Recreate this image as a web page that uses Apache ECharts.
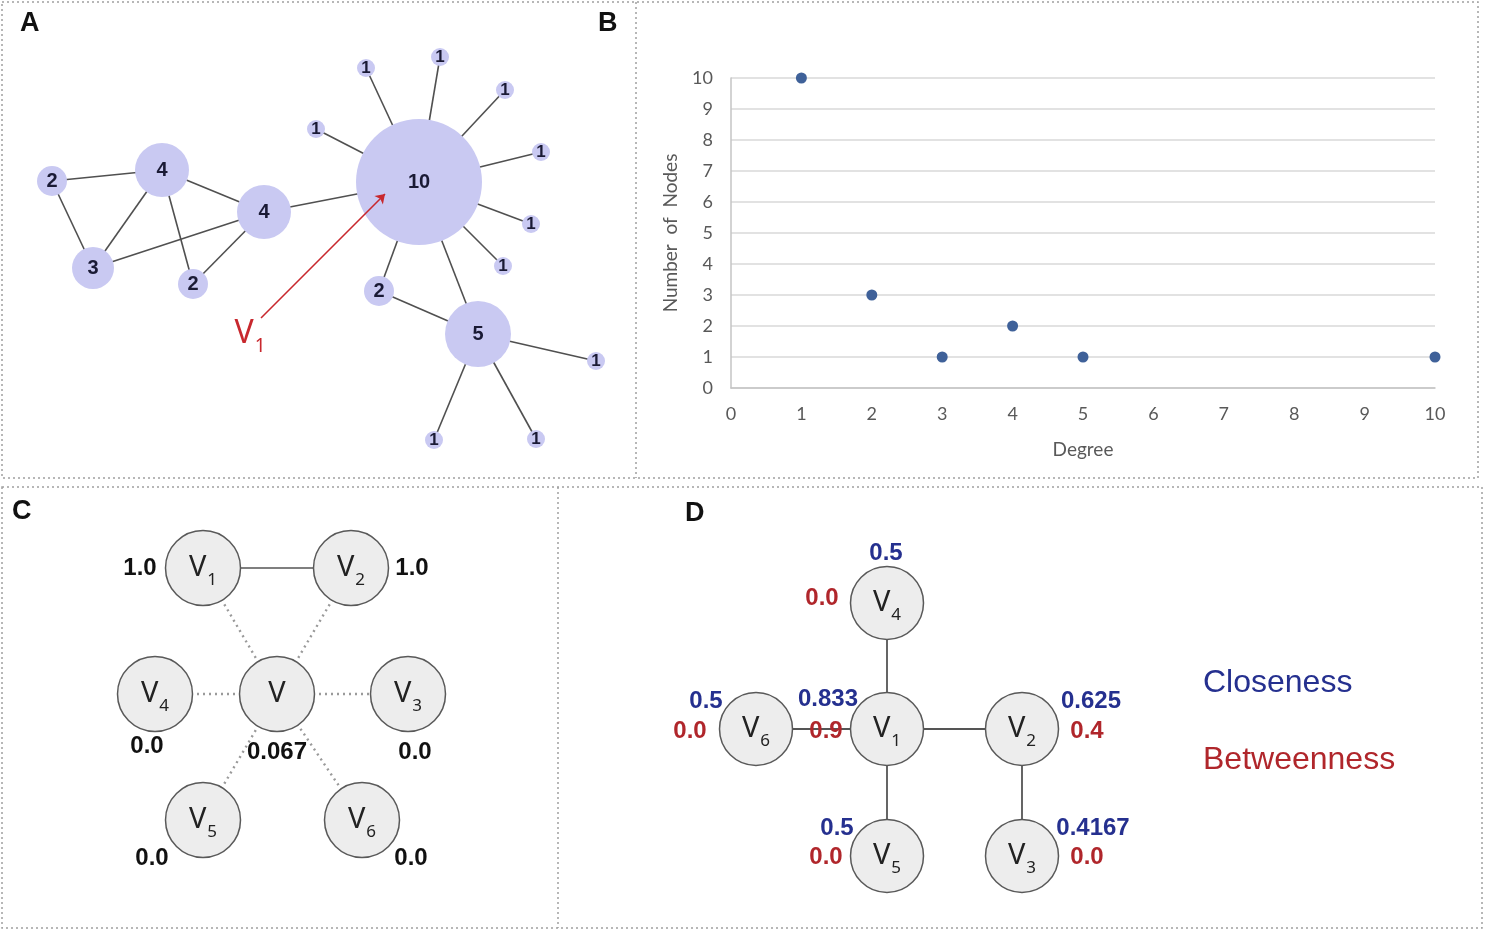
<!DOCTYPE html>
<html>
<head>
<meta charset="utf-8">
<script src="https://cdn.jsdelivr.net/npm/echarts@6/dist/echarts.min.js"></script>
<style>
  html, body { margin: 0; padding: 0; background: #ffffff; }
  #main { width: 1485px; height: 931px; }
</style>
</head>
<body>
<div id="main"></div>
<script>
// ---------- Panel A: example network, each node labelled with its degree ----------
const netDegree = [2, 4, 4, 3, 2, 10, 1, 1, 1, 1, 1, 1, 1, 2, 5, 1, 1, 1];
const netX      = [52, 162, 264, 93, 193, 419, 366, 440, 505, 541, 531, 503, 316, 379, 478, 596, 434, 536];
const netY      = [181, 170, 212, 268, 284, 182, 68, 57, 90, 152, 224, 266, 129, 291, 334, 361, 440, 439];
const netLinks  = [[0, 1], [0, 3], [1, 3], [1, 4], [1, 2], [3, 2], [4, 2], [2, 5],
                   [5, 6], [5, 7], [5, 8], [5, 9], [5, 10], [5, 11], [5, 12], [5, 13], [5, 14],
                   [13, 14], [14, 15], [14, 16], [14, 17]];
const arrowTail = [261, 318];
const arrowHead = [385, 194];
const arrowLabelPos = [250, 335];

// ---------- Panel B: degree distribution ----------
const degreeValues = [1, 2, 3, 4, 5, 10];
const nodeCounts   = [10, 3, 1, 2, 1, 1];
const degreeTicks  = [0, 1, 2, 3, 4, 5, 6, 7, 8, 9, 10];
const countTicks   = [0, 1, 2, 3, 4, 5, 6, 7, 8, 9, 10];

// ---------- Panel C: neighbourhood of V ----------
const cSub     = ['1', '2', '4', '', '3', '5', '6'];
const cX       = [203, 351, 155, 277, 408, 203, 362];
const cY       = [568, 568, 694, 694, 694, 820, 820];
const cScore   = ['1.0', '1.0', '0.0', '0.067', '0.0', '0.0', '0.0'];
const cScoreDx = [-63, 61, -8, 0, 7, -51, 49];
const cScoreDy = [0, 0, 52, 58, 58, 38, 38];
const cSolid   = [[0, 1]];
const cDotted  = [[3, 0], [3, 1], [3, 2], [3, 4], [3, 5], [3, 6]];

// ---------- Panel D: closeness and betweenness ----------
const dSub         = ['4', '6', '1', '2', '5', '3'];
const dX           = [887, 756, 887, 1022, 887, 1022];
const dY           = [603, 729, 729, 729, 856, 856];
const dCloseness   = ['0.5', '0.5', '0.833', '0.625', '0.5', '0.4167'];
const dBetweenness = ['0.0', '0.0', '0.9', '0.4', '0.0', '0.0'];
const dCloseDx     = [-1, -50, -59, 69, -50, 71];
const dCloseDy     = [-50, -28, -30, -28, -28, -28];
const dBetweenDx   = [-65, -66, -61, 65, -61, 65];
const dBetweenDy   = [-5, 2, 2, 2, 1, 1];
const dLinks       = [[0, 2], [1, 2], [2, 3], [2, 4], [3, 5]];

const CLOSE_COLOR = '#25308f';
const BETWEEN_COLOR = '#b0262b';

const chart = echarts.init(document.getElementById('main'), null, { renderer: 'canvas' });

const subRich = {
  v: { fontSize: 29, fontFamily: 'Noto Sans', color: '#222222', verticalAlign: 'top', lineHeight: 30 },
  s: { fontSize: 17, fontFamily: 'Noto Sans', color: '#222222', verticalAlign: 'top', lineHeight: 18, padding: [19, 0, 0, 1] }
};
function vLabel(sub) { return sub ? '{v|V}{s|' + sub + '}' : '{v|V}'; }

function textSeries(points, texts, style) {
  return {
    type: 'scatter',
    xAxisIndex: 0, yAxisIndex: 0,
    silent: true,
    symbol: 'circle', symbolSize: 1,
    itemStyle: { color: 'rgba(0,0,0,0)', opacity: 1 },
    z: 10,
    data: points.map((p, i) => ({ value: p, label: { formatter: texts[i] } })),
    label: Object.assign({ show: true, position: 'inside', opacity: 1 }, style)
  };
}

const circleNode = { color: '#ededed', borderColor: '#595959', borderWidth: 1.5 };

const option = {
  animation: false,
  backgroundColor: '#ffffff',
  grid: [
    { left: 0, top: 0, width: 1485, height: 931, outerBoundsMode: 'none', containLabel: false },
    { left: 731, top: 78, width: 704, height: 310, outerBoundsMode: 'none', containLabel: false }
  ],
  xAxis: [
    { gridIndex: 0, type: 'value', min: 0, max: 1485, show: false },
    {
      gridIndex: 1, type: 'value', min: 0, max: 10, interval: 1,
      name: 'Degree', nameLocation: 'middle', nameGap: 52,
      nameTextStyle: { fontFamily: 'Lato', fontSize: 19, color: '#595959' },
      axisLine: { show: true, lineStyle: { color: '#c4c4c4', width: 1.5 } },
      axisTick: { show: false },
      axisLabel: { margin: 17, fontFamily: 'Lato', fontSize: 18, color: '#595959',
                   formatter: v => degreeTicks.includes(v) ? String(v) : '' },
      splitLine: { show: false }
    }
  ],
  yAxis: [
    { gridIndex: 0, type: 'value', min: 0, max: 931, inverse: true, show: false },
    {
      gridIndex: 1, type: 'value', min: 0, max: 10, interval: 1,
      name: 'Number  of  Nodes', nameLocation: 'middle', nameGap: 51, nameRotate: 90,
      nameTextStyle: { fontFamily: 'Lato', fontSize: 19, color: '#595959' },
      axisLine: { show: true, lineStyle: { color: '#c4c4c4', width: 1.5 } },
      axisTick: { show: false },
      axisLabel: { margin: 18, fontFamily: 'Lato', fontSize: 18, color: '#595959',
                   formatter: v => countTicks.includes(v) ? String(v) : '' },
      splitLine: { show: true, lineStyle: { color: '#d9d9d9', width: 1.5 } }
    }
  ],
  graphic: [
    // panel frames
    { type: 'rect', shape: { x: 2, y: 2, width: 1476, height: 476 }, silent: true,
      style: { fill: 'none', stroke: '#a0a0a0', lineWidth: 1.5, lineDash: [2, 3] } },
    { type: 'line', shape: { x1: 636, y1: 2, x2: 636, y2: 478 }, silent: true,
      style: { stroke: '#a0a0a0', lineWidth: 1.5, lineDash: [2, 3] } },
    { type: 'rect', shape: { x: 2, y: 487, width: 1480, height: 441 }, silent: true,
      style: { fill: 'none', stroke: '#a0a0a0', lineWidth: 1.5, lineDash: [2, 3] } },
    { type: 'line', shape: { x1: 558, y1: 487, x2: 558, y2: 928 }, silent: true,
      style: { stroke: '#a0a0a0', lineWidth: 1.5, lineDash: [2, 3] } },
    // panel letters
    { type: 'text', left: 20, top: 10, silent: true,
      style: { text: 'A', font: 'bold 27px "Liberation Sans", Arial', fill: '#111' } },
    { type: 'text', left: 598, top: 10, silent: true,
      style: { text: 'B', font: 'bold 27px "Liberation Sans", Arial', fill: '#111' } },
    { type: 'text', left: 12, top: 498, silent: true,
      style: { text: 'C', font: 'bold 27px "Liberation Sans", Arial', fill: '#111' } },
    { type: 'text', left: 685, top: 500, silent: true,
      style: { text: 'D', font: 'bold 27px "Liberation Sans", Arial', fill: '#111' } },
    // panel D legend
    { type: 'text', left: 1203, top: 667, silent: true,
      style: { text: 'Closeness', font: '32px "Liberation Sans", Arial', fill: CLOSE_COLOR } },
    { type: 'text', left: 1203, top: 744, silent: true,
      style: { text: 'Betweenness', font: '32px "Liberation Sans", Arial', fill: BETWEEN_COLOR } }
  ],
  series: [
    // ---- A: network ----
    {
      type: 'graph', layout: 'none', coordinateSystem: 'cartesian2d',
      xAxisIndex: 0, yAxisIndex: 0, silent: true, z: 2,
      data: netDegree.map((d, i) => ({
        name: 'a' + i,
        value: [netX[i], netY[i]],
        symbolSize: 12 * d + 6,
        label: { fontSize: d > 1 ? 20 : 17 }
      })),
      links: netLinks.map(([s, t]) => ({ source: s, target: t })),
      itemStyle: { color: '#c9c9f2', opacity: 1 },
      lineStyle: { color: '#505050', width: 1.6, opacity: 1, curveness: 0 },
      label: {
        show: true, position: 'inside',
        fontFamily: '"Liberation Sans", Arial', fontWeight: 'bold', color: '#1a1a35',
        formatter: p => String(netDegree[p.dataIndex])
      }
    },
    {
      type: 'lines', coordinateSystem: 'cartesian2d', xAxisIndex: 0, yAxisIndex: 0,
      silent: true, z: 5,
      symbol: ['none', 'arrow'], symbolSize: 9,
      lineStyle: { color: '#c8282e', width: 1.6, opacity: 1 },
      data: [{ coords: [arrowTail, arrowHead] }]
    },
    textSeries([arrowLabelPos], ['{v|V}{s|1}'], {
      rich: {
        v: { fontSize: 32, fontFamily: 'Noto Sans', color: '#c8282e', verticalAlign: 'top', lineHeight: 34 },
        s: { fontSize: 19, fontFamily: 'Noto Sans', color: '#c8282e', verticalAlign: 'top', lineHeight: 20, padding: [19, 0, 0, 1] }
      }
    }),

    // ---- B: degree distribution ----
    {
      type: 'scatter', xAxisIndex: 1, yAxisIndex: 1, silent: true, clip: false,
      symbolSize: 11,
      itemStyle: { color: '#3f6199', opacity: 1 },
      data: degreeValues.map((d, i) => [d, nodeCounts[i]])
    },

    // ---- C: solid and dotted edges, then nodes ----
    {
      type: 'graph', layout: 'none', coordinateSystem: 'cartesian2d',
      xAxisIndex: 0, yAxisIndex: 0, silent: true, z: 2,
      data: cX.map((x, i) => ({ name: 'c' + i, value: [x, cY[i]] })),
      symbolSize: 75,
      itemStyle: Object.assign({ opacity: 1 }, circleNode),
      links: cSolid.map(([s, t]) => ({ source: s, target: t, lineStyle: { type: 'solid', color: '#555555', width: 1.6 } }))
        .concat(cDotted.map(([s, t]) => ({ source: s, target: t, lineStyle: { type: [2, 4], color: '#9a9a9a', width: 2.4 } }))),
      lineStyle: { opacity: 1, curveness: 0 },
      label: { show: true, position: 'inside', formatter: p => vLabel(cSub[p.dataIndex]), rich: subRich }
    },
    textSeries(cX.map((x, i) => [x + cScoreDx[i], cY[i] + cScoreDy[i]]), cScore, {
      fontFamily: '"Liberation Sans", Arial', fontWeight: 'bold', fontSize: 24, color: '#111111'
    }),

    // ---- D: tree with closeness / betweenness ----
    {
      type: 'graph', layout: 'none', coordinateSystem: 'cartesian2d',
      xAxisIndex: 0, yAxisIndex: 0, silent: true, z: 2,
      data: dX.map((x, i) => ({ name: 'd' + i, value: [x, dY[i]] })),
      symbolSize: 73,
      itemStyle: Object.assign({ opacity: 1 }, circleNode),
      links: dLinks.map(([s, t]) => ({ source: s, target: t })),
      lineStyle: { color: '#555555', width: 1.8, opacity: 1, curveness: 0 },
      label: { show: true, position: 'inside', formatter: p => vLabel(dSub[p.dataIndex]), rich: subRich }
    },
    textSeries(dX.map((x, i) => [x + dCloseDx[i], dY[i] + dCloseDy[i]]), dCloseness, {
      fontFamily: '"Liberation Sans", Arial', fontWeight: 'bold', fontSize: 24, color: CLOSE_COLOR
    }),
    textSeries(dX.map((x, i) => [x + dBetweenDx[i], dY[i] + dBetweenDy[i]]), dBetweenness, {
      fontFamily: '"Liberation Sans", Arial', fontWeight: 'bold', fontSize: 24, color: BETWEEN_COLOR
    })
  ]
};

chart.setOption(option);
</script>
</body>
</html>
